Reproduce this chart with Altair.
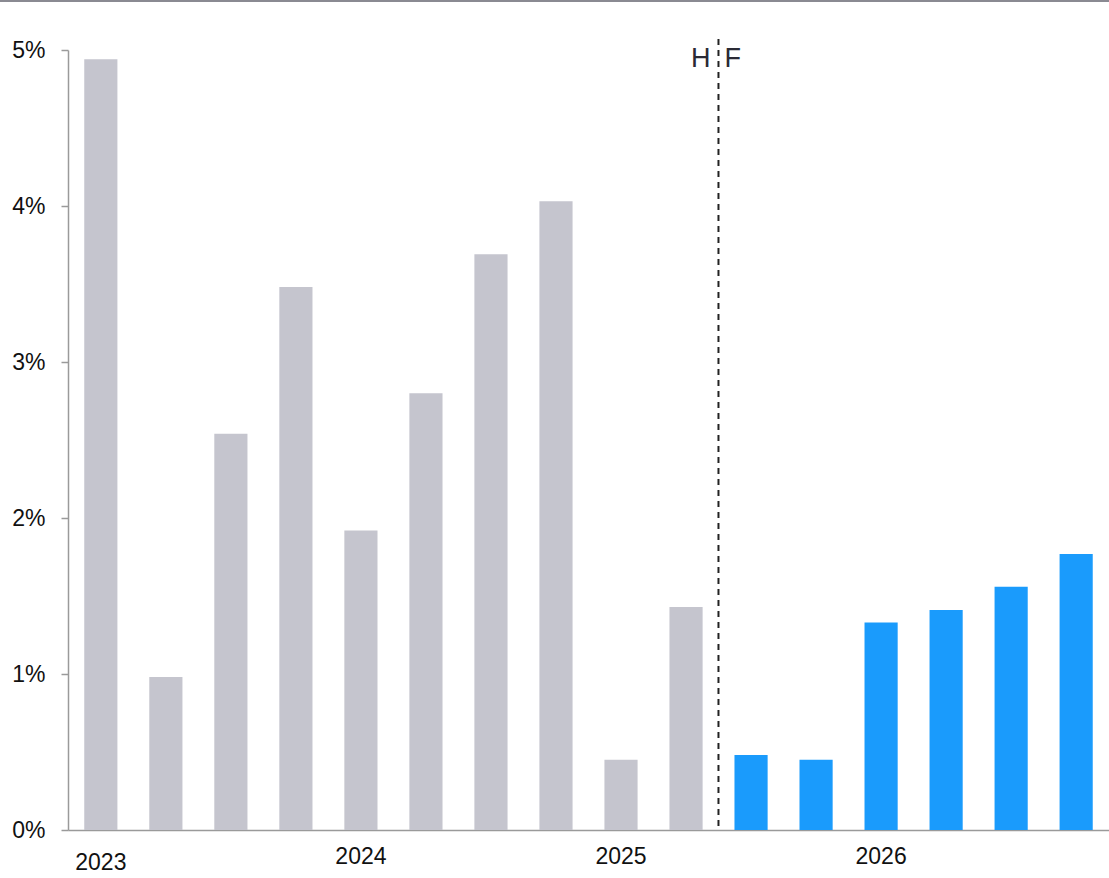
import altair as alt
import pandas as pd

quarters = [f"{y}Q{q}" for y in (2023, 2024, 2025, 2026) for q in (1, 2, 3, 4)]
values = [4.94, 0.98, 2.54, 3.48, 1.92, 2.80, 3.69, 4.03,
          0.45, 1.43, 0.48, 0.45, 1.33, 1.41, 1.56, 1.77]
kind = ["Historical"] * 10 + ["Forecast"] * 6
year_labels = ["2023", "2024", "2025", "2026"]
year_label_at = ["2023Q1", "2024Q1", "2025Q1", "2026Q1"]
divider_at = "2025Q3"

df = pd.DataFrame({"q": quarters, "v": values, "kind": kind})
lab = pd.DataFrame({"q": year_label_at, "t": year_labels})
div = pd.DataFrame({"q": [divider_at]})

FONT = "Liberation Sans"
W, H = 1041, 780
GAP_HALF = -16  # half of the gap between bars

xs = alt.Scale(domain=quarters, paddingInner=0.49, paddingOuter=0.25)

bars = alt.Chart(df).mark_bar().encode(
    x=alt.X("q:N", scale=xs, sort=quarters,
            axis=alt.Axis(labels=False, ticks=False, title=None, grid=False,
                          domainColor="#9a9a9a", domainWidth=1.5)),
    y=alt.Y("v:Q", scale=alt.Scale(domain=[0, 5], nice=False),
            axis=alt.Axis(values=[0, 1, 2, 3, 4, 5], labelExpr="datum.value + '%'",
                          title=None, grid=False, domainColor="#9a9a9a", domainWidth=1.5,
                          tickColor="#9a9a9a", tickSize=7, tickWidth=1.5,
                          labelFont=FONT, labelFontSize=23, labelColor="#111111",
                          labelPadding=16)),
    color=alt.Color("kind:N", scale=alt.Scale(domain=["Historical", "Forecast"],
                                              range=["#C5C5CE", "#1A9BFC"]),
                    legend=None),
)

rule = alt.Chart(div).mark_rule(color="#222222", strokeWidth=2, strokeDash=[6, 5]).encode(
    x=alt.X("q:N", scale=xs, bandPosition=0),
    xOffset=alt.value(GAP_HALF),
    y=alt.value(-11), y2=alt.value(H),
)

htext = alt.Chart(div).mark_text(text="H", align="right", baseline="middle", dx=GAP_HALF - 8,
                                  font=FONT, fontSize=27, color="#2a2a35").encode(
    x=alt.X("q:N", scale=xs, bandPosition=0), y=alt.value(9))
ftext = alt.Chart(div).mark_text(text="F", align="left", baseline="middle", dx=GAP_HALF + 6,
                                  font=FONT, fontSize=27, color="#2a2a35").encode(
    x=alt.X("q:N", scale=xs, bandPosition=0), y=alt.value(9))

lab_first = alt.Chart(lab.iloc[:1]).mark_text(baseline="middle", font=FONT, fontSize=23,
                                              color="#111111").encode(
    x=alt.X("q:N", scale=xs), y=alt.value(813), text="t:N")
lab_rest = alt.Chart(lab.iloc[1:]).mark_text(baseline="middle", font=FONT, fontSize=23,
                                             color="#111111").encode(
    x=alt.X("q:N", scale=xs), y=alt.value(806.5), text="t:N")

topline = alt.Chart(div).mark_rule(color="#8a8a92", strokeWidth=2).encode(
    x=alt.value(-68), x2=alt.value(W), y=alt.value(-49))

chart = alt.layer(bars, rule, htext, ftext, lab_first, lab_rest, topline).properties(
    width=W, height=H,
    background="white",
    autosize=alt.AutoSizeParams(type="none"),
    padding={"left": 68, "top": 50, "right": 0, "bottom": 48},
).configure_view(stroke=None)

chart.save("out.html", embed_options={"renderer": "svg", "actions": False})
